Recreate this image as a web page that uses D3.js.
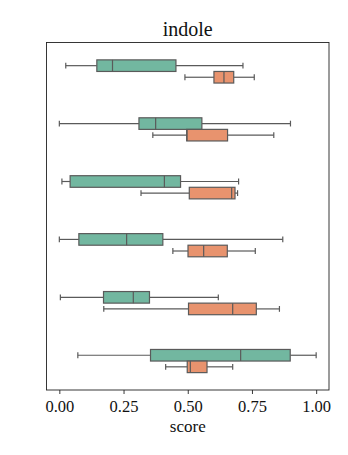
<!DOCTYPE html>
<html><head><meta charset="utf-8">
<script src="https://cdn.jsdelivr.net/npm/d3@7"></script>
<style>body{margin:0;background:#fff}</style>
</head><body><svg id="c" width="348" height="455"></svg>
<script>
const groups = ["g1","g2","g3","g4","g5","g6"];
const hues = ["A","B"];
const colors = ["#72b7a0","#e8936e"];
const tickValues = [0, 0.25, 0.5, 0.75, 1.0];
const tickLabels = ["0.00","0.25","0.50","0.75","1.00"];
// [whiskerLow, q1, median, q3, whiskerHigh]
const seriesA = [
  [0.025, 0.146, 0.207, 0.454, 0.715],
  [0.000, 0.310, 0.375, 0.555, 0.900],
  [0.010, 0.042, 0.409, 0.472, 0.698],
  [0.000, 0.076, 0.262, 0.403, 0.870],
  [0.004, 0.172, 0.288, 0.351, 0.619],
  [0.072, 0.355, 0.706, 0.899, 1.000]
];
const seriesB = [
  [0.489, 0.602, 0.641, 0.679, 0.759],
  [0.364, 0.496, 0.497, 0.655, 0.835],
  [0.318, 0.506, 0.671, 0.684, 0.694],
  [0.442, 0.501, 0.562, 0.654, 0.763],
  [0.173, 0.503, 0.675, 0.767, 0.857],
  [0.414, 0.498, 0.510, 0.575, 0.675]
];
const series = [seriesA, seriesB];

const svg = d3.select("#c");
const L = 46.5, R = 329, T = 42.5, B = 390;
const x = d3.scaleLinear().domain([-0.05, 1.05]).range([L, R]);
const y = d3.scaleBand().domain(groups).range([T, B]);
const hueOff = d3.scaleBand().domain(hues).range([-0.2, 0.2]);
const font = "'Liberation Serif','DejaVu Serif',serif";
const lineC = "#5a5a5a";

groups.forEach((g, gi) => {
  hues.forEach((h, hi) => {
    const d = series[hi][gi];
    const bw = y.bandwidth();
    const cy = y(g) + bw/2 + (hueOff(h) + hueOff.bandwidth()/2) * bw;
    const hh = hueOff.bandwidth() * bw;
    const grp = svg.append("g");
    grp.append("line").attr("x1", x(d[0])).attr("x2", x(d[1])).attr("y1", cy).attr("y2", cy)
      .attr("stroke", lineC).attr("stroke-width", 1.2);
    grp.append("line").attr("x1", x(d[3])).attr("x2", x(d[4])).attr("y1", cy).attr("y2", cy)
      .attr("stroke", lineC).attr("stroke-width", 1.2);
    [d[0], d[4]].forEach(v => grp.append("line").attr("x1", x(v)).attr("x2", x(v))
      .attr("y1", cy - hh/4).attr("y2", cy + hh/4).attr("stroke", lineC).attr("stroke-width", 1.2));
    grp.append("rect").attr("x", x(d[1])).attr("y", cy - hh/2).attr("width", x(d[3]) - x(d[1]))
      .attr("height", hh).attr("fill", colors[hi]).attr("stroke", lineC).attr("stroke-width", 1.2);
    grp.append("line").attr("x1", x(d[2])).attr("x2", x(d[2])).attr("y1", cy - hh/2).attr("y2", cy + hh/2)
      .attr("stroke", lineC).attr("stroke-width", 1.2);
  });
});

svg.append("rect").attr("x", L).attr("y", T).attr("width", R - L).attr("height", B - T)
  .attr("fill", "none").attr("stroke", "#222").attr("stroke-width", 0.9);

const ax = svg.append("g").attr("transform", `translate(0,${B})`)
  .call(d3.axisBottom(x).tickValues(tickValues).tickFormat((d, i) => tickLabels[i]).tickSize(4).tickPadding(4));
ax.select(".domain").remove();
ax.selectAll(".tick line").attr("stroke", "#222").attr("stroke-width", 0.9);
ax.selectAll("text").attr("font-family", font).attr("font-size", 16.5).attr("fill", "#111")
  .attr("dy", null).attr("y", 22);

svg.append("text").attr("x", (L + R)/2).attr("y", 432).attr("text-anchor", "middle")
  .attr("font-family", font).attr("font-size", 17).attr("fill", "#111").text("score");
svg.append("text").attr("x", (L + R)/2).attr("y", 36).attr("text-anchor", "middle")
  .attr("font-family", font).attr("font-size", 20).attr("fill", "#111").text("indole");
</script></body></html>
